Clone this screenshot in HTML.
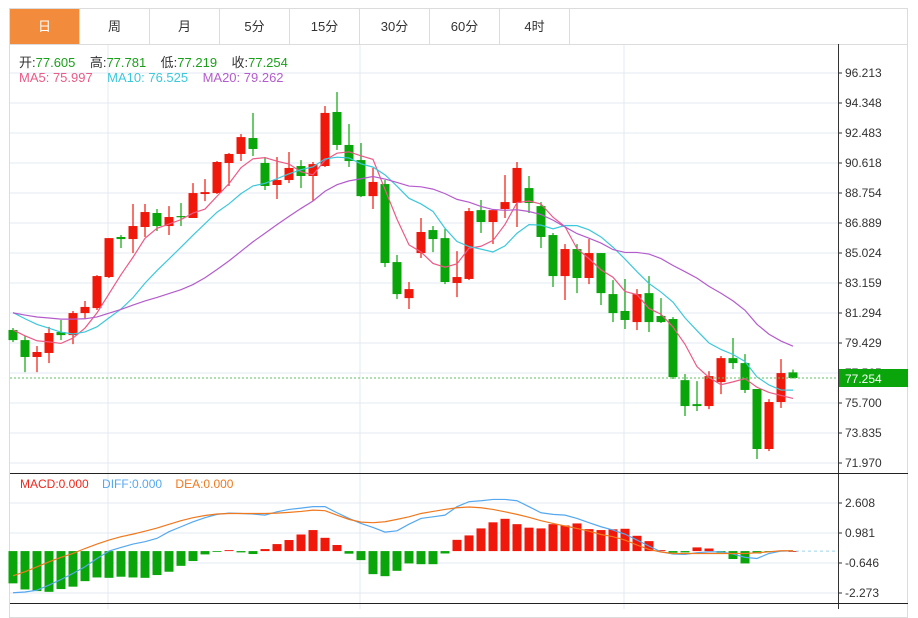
<!DOCTYPE html>
<html><head><meta charset="utf-8">
<style>
body{margin:0;background:#fff;width:918px;height:609px;overflow:hidden;font-family:"Liberation Sans","Noto Sans CJK SC",sans-serif}
#frame{position:absolute;left:9px;top:8px;width:899px;height:610px;border:1px solid #dcdcdc;box-sizing:border-box}
.tab{position:absolute;top:9px;height:35px;width:70px;border-right:1px solid #dcdcdc;font-size:13px;color:#333;text-align:center;line-height:35px;box-sizing:border-box}
</style></head><body>
<div id="frame"></div>
<div class="tab" style="left:10px;background:#f28c3c;color:#fff">日</div>
<div class="tab" style="left:80px">周</div>
<div class="tab" style="left:150px">月</div>
<div class="tab" style="left:220px">5分</div>
<div class="tab" style="left:290px">15分</div>
<div class="tab" style="left:360px">30分</div>
<div class="tab" style="left:430px">60分</div>
<div class="tab" style="left:500px">4时</div>
<svg id="chart" width="918" height="609" style="position:absolute;left:0;top:0"></svg>
<script>
const opens=[80.24,79.61,78.56,78.81,80.11,79.92,81.29,81.60,83.53,86.02,85.89,86.64,87.51,86.70,87.32,87.20,88.69,88.75,90.62,91.18,92.17,90.62,89.25,89.56,90.43,89.81,90.43,93.79,91.74,90.80,88.56,89.31,84.46,82.22,85.02,86.45,85.95,83.16,83.41,87.69,86.95,87.76,88.13,89.06,87.94,86.14,83.59,85.27,83.47,85.02,82.47,81.42,80.73,82.53,81.11,80.92,77.12,75.63,75.51,77.00,78.49,78.18,76.57,72.84,75.76,77.605];
const closes=[79.61,78.56,78.87,80.05,79.92,81.29,81.67,83.59,85.95,85.89,86.70,87.57,86.70,87.26,87.26,88.75,88.81,90.68,91.18,92.23,91.49,89.19,89.56,90.31,89.81,90.55,93.73,91.74,90.74,88.56,89.44,84.40,82.47,82.78,86.33,85.89,83.22,83.53,87.63,86.95,87.69,88.19,90.31,88.13,86.02,83.59,85.27,83.47,85.02,82.53,81.29,80.86,82.47,80.73,80.73,77.31,75.51,75.51,77.37,78.49,78.18,76.51,72.84,75.76,77.56,77.254];
const highs=[80.36,79.86,79.24,80.43,80.86,81.42,82.04,83.65,85.95,86.14,88.07,88.07,87.76,87.94,88.13,89.37,89.62,90.74,91.24,92.42,93.73,90.99,90.99,91.30,90.80,90.68,94.16,95.03,93.04,91.86,90.31,89.56,84.90,83.22,87.20,86.70,86.51,85.14,87.82,88.32,87.69,89.87,90.68,89.81,88.19,86.27,85.58,85.58,85.89,85.02,83.34,83.41,82.78,83.59,82.22,81.04,77.50,77.06,77.68,78.62,79.74,78.74,76.57,75.94,78.43,77.781];
const lows=[79.49,77.62,77.62,78.18,79.61,79.36,80.92,81.48,83.47,85.33,85.02,86.02,86.39,86.14,86.70,87.20,88.25,88.69,89.19,90.74,91.05,88.94,88.38,89.37,89.06,88.25,90.37,91.43,90.37,88.50,87.76,84.15,82.16,81.54,84.71,85.08,83.09,82.28,83.34,86.27,85.58,87.20,86.64,87.51,85.33,82.91,82.10,82.53,83.09,81.79,80.73,80.30,80.23,80.11,80.67,77.19,74.89,75.20,75.32,76.25,77.81,76.32,72.22,72.71,75.39,77.219];
const priorCloses=[81.28,81.28,81.28,81.28,81.28,81.28,81.28,81.28,81.28,81.28,82.4,82.4,82.4,82.4,82.4,80.4,80.4,80.4,80.4];
const priceTicks=[96.213,94.348,92.483,90.618,88.754,86.889,85.024,83.159,81.294,79.429,77.565,75.700,73.835,71.970];
const macdBars=[-1.75,-2.08,-2.17,-2.21,-2.06,-1.93,-1.63,-1.43,-1.45,-1.39,-1.43,-1.45,-1.30,-1.12,-0.80,-0.54,-0.18,-0.04,0.05,-0.07,-0.16,0.11,0.38,0.60,0.90,1.14,0.72,0.33,-0.14,-0.49,-1.25,-1.36,-1.07,-0.67,-0.71,-0.71,-0.13,0.61,0.85,1.23,1.56,1.75,1.46,1.27,1.23,1.46,1.39,1.50,1.19,1.14,1.18,1.21,0.83,0.54,0.05,-0.09,-0.07,0.20,0.14,-0.09,-0.43,-0.67,-0.13,-0.02,0.02,0];
const diffVals=[-2.26,-2.22,-2.12,-1.84,-1.54,-1.21,-0.85,-0.40,0,0.20,0.38,0.51,0.69,1.05,1.32,1.59,1.81,1.99,2.06,2.04,2.01,1.95,2.13,2.26,2.33,2.41,2.41,2.08,1.77,1.50,1.28,1.03,1.10,1.46,1.77,1.86,1.95,2.41,2.68,2.73,2.80,2.80,2.73,2.41,2.08,1.99,1.95,1.77,1.54,1.32,1.14,0.92,0.60,0.27,-0.04,-0.16,-0.18,-0.09,-0.04,-0.04,-0.16,-0.34,-0.40,-0.13,0,0.02];
const deaVals=[-1.34,-1.12,-0.85,-0.58,-0.34,-0.13,0.14,0.38,0.60,0.78,0.92,1.08,1.25,1.45,1.65,1.81,1.93,2.01,2.04,2.04,2.04,2.04,2.06,2.10,2.15,2.22,2.19,1.95,1.72,1.57,1.54,1.59,1.72,1.86,2.04,2.15,2.26,2.35,2.39,2.35,2.26,2.13,1.99,1.83,1.65,1.50,1.36,1.23,1.08,0.90,0.78,0.60,0.33,0.09,-0.05,-0.13,-0.13,-0.13,-0.13,-0.13,-0.13,-0.13,-0.09,-0.04,0.02,0.02];
const macdTicks=[2.608,0.981,-0.646,-2.273];

const svg=document.getElementById('chart');
const NS='http://www.w3.org/2000/svg';
function mk(tag,attrs,parent){const e=document.createElementNS(NS,tag);for(const k in attrs)e.setAttribute(k,attrs[k]);(parent||svg).appendChild(e);return e;}
const PL=10,PR=838,PTOP=73,PSTEP=30;
const pMax=priceTicks[0],pMin=priceTicks[priceTicks.length-1];
const yP=v=>PTOP+(pMax-v)/(pMax-pMin)*PSTEP*(priceTicks.length-1);
const xC=i=>13+12*i;
const mMax=macdTicks[0],mMin=macdTicks[macdTicks.length-1];
const yM=v=>503+(mMax-v)/(mMax-mMin)*90;
const RED='#f0180a',GREEN='#0aa50a';

priceTicks.forEach((t,i)=>{
  const l=mk('line',{x1:PL,x2:PR,y1:yP(t),y2:yP(t),stroke:'#e3eaf1','stroke-width':1});
  
  
  mk('line',{x1:PR,x2:PR+4,y1:yP(t),y2:yP(t),stroke:'#333'});
  const tx=mk('text',{x:845,y:yP(t)+4,'font-size':12,fill:'#333'});
  tx.textContent=t.toFixed(3);
  
  
});
macdTicks.forEach(t=>{
  const l=mk('line',{x1:PL,x2:PR,y1:yM(t),y2:yM(t),stroke:'#e3eaf1'});
  
  
  mk('line',{x1:PR,x2:PR+4,y1:yM(t),y2:yM(t),stroke:'#333'});
  const tx=mk('text',{x:845,y:yM(t)+4,'font-size':12,fill:'#333'});
  tx.textContent=t.toFixed(3);
  
  
});
[108,360,624].forEach(x=>{const v=mk('line',{x1:x,x2:x,y1:44,y2:609,stroke:'#e3eaf1'});
  
  });
mk('line',{x1:9,x2:908,y1:44.5,y2:44.5,stroke:'#dcdcdc'});
mk('line',{x1:PR+.5,x2:PR+.5,y1:44,y2:609,stroke:'#333'});
mk('line',{x1:PL,x2:908,y1:473.5,y2:473.5,stroke:'#222'});
mk('line',{x1:PL,x2:908,y1:603.5,y2:603.5,stroke:'#222'});

for(let i=0;i<opens.length;i++){
  const up=closes[i]>=opens[i],c=up?RED:GREEN,x=xC(i);
  const w=mk('line',{x1:x,x2:x,y1:yP(highs[i]),y2:yP(lows[i]),stroke:c,'stroke-width':1.2});
  
  
  const top=yP(Math.max(opens[i],closes[i])),bot=yP(Math.min(opens[i],closes[i]));
  const b=mk('rect',{x:x-4.5,y:top,width:9,height:Math.max(1.2,bot-top),fill:c});
  
  
}
const all=priorCloses.concat(closes);
function ma(n){const r=[];for(let i=0;i<closes.length;i++){const j=i+priorCloses.length;let s=0;for(let k=j-n+1;k<=j;k++)s+=all[k];r.push(s/n);}return r;}
[[5,'#ec5a86','ma5-line'],[10,'#3cc8dc','ma10-line'],[20,'#b45ccc','ma20-line']].forEach(([n,col,nm])=>{
  const m=ma(n);
  const p=mk('polyline',{points:m.map((v,i)=>xC(i)+','+yP(v)).join(' '),fill:'none',stroke:col,'stroke-width':1.2});
  
  
});
const cy=yP(closes[closes.length-1]);
const cl=mk('line',{x1:PL,x2:PR,y1:cy,y2:cy,stroke:'#5cc05c','stroke-dasharray':'2,2'});


const cb=mk('rect',{x:839,y:cy-9,width:69,height:18,fill:'#0aa50a'});


const ct=mk('text',{x:845,y:cy+5,'font-size':12,fill:'#fff'});ct.textContent=closes[closes.length-1].toFixed(3);

const z=yM(0);
macdBars.forEach((v,i)=>{
  const y1=Math.min(yM(v),z),h=Math.abs(yM(v)-z);
  const r=mk('rect',{x:xC(i)-4.5,y:y1,width:9,height:Math.max(h,0.8),fill:v>=0?RED:GREEN});
  
  
});
const zl=mk('line',{x1:790,x2:PR,y1:z,y2:z,stroke:'#9cd4ec','stroke-dasharray':'3,3'});
[[diffVals,'#55a8f0','diff-line'],[deaVals,'#f0781e','dea-line']].forEach(([arr,col,nm])=>{
  const p=mk('polyline',{points:arr.map((v,i)=>xC(i)+','+yM(v)).join(' '),fill:'none',stroke:col,'stroke-width':1.2});
  
  
});
</script>
<div style="position:absolute;left:19px;top:52px;font-size:13px;color:#333;white-space:nowrap">开:<span style="color:#1aa01a">77.605</span>&nbsp;&nbsp;&nbsp; 高:<span style="color:#1aa01a">77.781</span>&nbsp;&nbsp;&nbsp; 低:<span style="color:#1aa01a">77.219</span>&nbsp;&nbsp;&nbsp; 收:<span style="color:#1aa01a">77.254</span></div>
<div style="position:absolute;left:19px;top:70px;font-size:13px;white-space:nowrap"><span style="color:#ec5a86">MA5: 75.997</span>&nbsp;&nbsp;&nbsp; <span style="color:#3cc8dc">MA10: 76.525</span>&nbsp;&nbsp;&nbsp; <span style="color:#b45ccc">MA20: 79.262</span></div>
<div style="position:absolute;left:20px;top:477px;font-size:12px;white-space:nowrap"><span style="color:#f0281e">MACD:0.000</span>&nbsp;&nbsp;&nbsp; <span style="color:#55a8f0">DIFF:0.000</span>&nbsp;&nbsp;&nbsp; <span style="color:#f0781e">DEA:0.000</span></div>
</body></html>
